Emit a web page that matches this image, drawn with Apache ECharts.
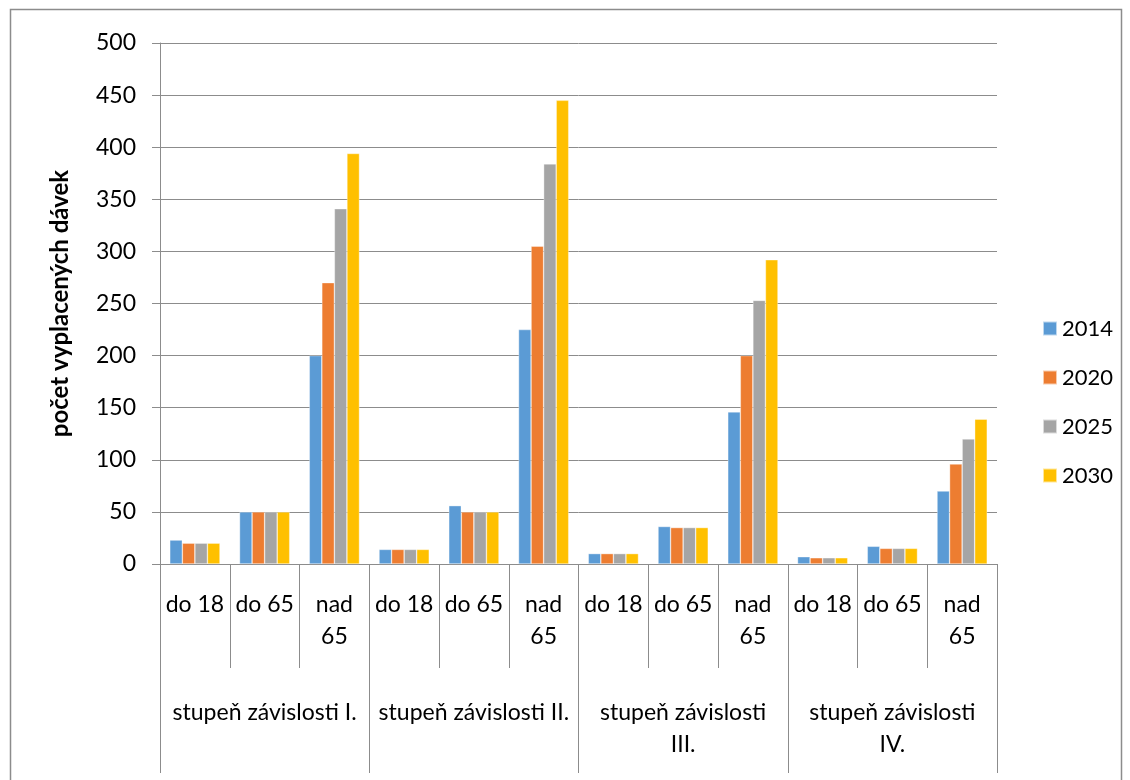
<!DOCTYPE html>
<html>
<head>
<meta charset="utf-8">
<script src="https://cdn.jsdelivr.net/npm/echarts@6/dist/echarts.min.js"></script>
<style>
  html, body { margin: 0; padding: 0; background: #fff; }
  #chart { width: 1130px; height: 780px; }
</style>
</head>
<body>
<div id="chart"></div>
<script>
// Age groups repeated inside each dependency level
const ageGroups = ['do 18', 'do 65', 'nad\n65'];
const levels = ['stupeň závislosti I.', 'stupeň závislosti II.', 'stupeň závislosti\nIII.', 'stupeň závislosti\nIV.'];
const years = ['2014', '2020', '2025', '2030'];

// Number of benefits paid, per (level, age group), for each year
const v2014 = [23, 50, 200, 14, 56, 225, 10, 36, 146, 7, 17, 70];
const v2020 = [20, 50, 270, 14, 50, 305, 10, 35, 200, 6, 15, 96];
const v2025 = [20, 50, 341, 14, 50, 384, 10, 35, 253, 6, 15, 120];
const v2030 = [20, 50, 394, 14, 50, 445, 10, 35, 292, 6, 15, 139];

const yTicks = [0, 50, 100, 150, 200, 250, 300, 350, 400, 450, 500];

const colors = ['#5B9BD5', '#ED7D31', '#A5A5A5', '#FFC000'];
const seriesValues = [v2014, v2020, v2025, v2030];

const categories = [];
levels.forEach(() => ageGroups.forEach(a => categories.push(a)));

const font = 'Lato, "Open Sans", sans-serif';
const gray = '#8C8C8C';

const chart = echarts.init(document.getElementById('chart'), null, { renderer: 'canvas' });
chart.setOption({
  animation: false,
  backgroundColor: '#fff',
  textStyle: { fontFamily: font },
  graphic: [{
    type: 'rect',
    shape: { x: 10.5, y: 9.5, width: 1111, height: 800 },
    style: { fill: 'none', stroke: gray, lineWidth: 1.5 },
    silent: true
  }],
  grid: { left: 160, right: 133, top: 43, bottom: 216 },
  legend: {
    orient: 'vertical',
    left: 1042,
    top: 317,
    padding: 0,
    itemWidth: 14,
    itemHeight: 14,
    itemGap: 26,
    icon: 'rect',
    data: years,
    textStyle: { fontFamily: font, fontSize: 22, color: '#000', lineHeight: 23, padding: [0, 0, 0, 0] }
  },
  xAxis: [{
    type: 'category',
    position: 'bottom',
    data: categories,
    axisLine: { show: true, lineStyle: { color: gray, width: 1 } },
    axisTick: { show: true, length: 104, interval: 0, lineStyle: { color: gray, width: 1 } },
    axisLabel: {
      interval: 0, margin: 25, color: '#000', fontFamily: font, fontSize: 23,
      lineHeight: 32, align: 'center'
    },
    splitLine: { show: false }
  }, {
    type: 'category',
    position: 'bottom',
    data: levels,
    axisLine: { show: false },
    axisTick: { show: true, length: 209, interval: 0, lineStyle: { color: gray, width: 1 } },
    axisLabel: {
      interval: 0, margin: 133, color: '#000', fontFamily: font, fontSize: 23,
      lineHeight: 32, align: 'center'
    },
    splitLine: { show: false }
  }],
  yAxis: {
    type: 'value',
    min: yTicks[0],
    max: yTicks[yTicks.length - 1],
    interval: 50,
    name: 'počet vyplacených dávek',
    nameLocation: 'middle',
    nameRotate: 90,
    nameGap: 88,
    nameTextStyle: { fontFamily: font, fontSize: 24, fontWeight: 'bold', color: '#000' },
    axisLine: { show: true, lineStyle: { color: gray, width: 1 } },
    axisTick: { show: true, inside: false, length: 8, lineStyle: { color: gray, width: 1 } },
    axisLabel: { margin: 24, color: '#000', fontFamily: font, fontSize: 23 },
    splitLine: { show: true, lineStyle: { color: gray, width: 1 } }
  },
  series: years.map((y, i) => ({
    name: y,
    type: 'bar',
    xAxisIndex: 0,
    data: seriesValues[i],
    barGap: '0%',
    barCategoryGap: '28%',
    itemStyle: { color: colors[i], borderColor: 'rgba(255,255,255,0.6)', borderWidth: 0.6 }
  }))
});
</script>
</body>
</html>
